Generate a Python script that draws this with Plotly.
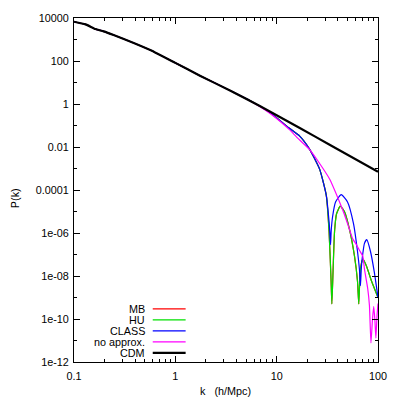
import plotly.graph_objects as go

# ---------------- data ----------------
k_cdm = [0.1, 0.13, 0.163, 0.196, 0.246, 0.565, 1.0, 1.75, 3.46, 6.82, 16.9, 33.3, 100]
p_cdm = [6700, 5040, 3050, 2400, 1625, 323, 81.8, 20.7, 4.25, 0.81, 0.077, 0.0128, 7.12e-4]

k_class = [0.1, 0.13, 0.163, 0.196, 0.246, 0.565, 1.0, 1.75, 3.46, 5.44, 8.55, 13.45, 16.87,
           21.17, 26.54, 30.88, 32.89, 33.6, 34.04, 34.5, 35.62, 38.11, 43.37, 50.03, 57.31,
           62.74, 65.6, 67.14, 68.5, 70.26, 73.5, 77.42, 84.2, 92.2, 100]
p_class = [6700, 5040, 3050, 2400, 1625, 323, 81.8, 20.7, 4.25, 1.45, 0.40, 0.072, 0.032,
           0.00776, 9.38e-4, 5.65e-5, 3.37e-6, 8.0e-7, 2.87e-7, 1.2e-6, 5.71e-6, 2.79e-5, 6.03e-5,
           2.79e-5, 2.73e-6, 1.42e-7, 2.0e-8, 3.52e-9, 2.5e-8, 8.35e-8, 3.3e-7, 4.88e-7, 1.42e-7,
           1.39e-8, 9.9e-10]

k_hu = [0.1, 0.13, 0.163, 0.196, 0.246, 0.565, 1.0, 1.75, 3.46, 5.44, 8.55, 13.45, 16.87,
        21.17, 26.54, 30.88, 32.89, 34.43, 35.06, 36.02, 37.26, 38.99, 42.4, 46.73, 52.36,
        58.63, 62.74, 64.6, 66.37, 68.69, 71.06, 76.9, 86.1, 100]
p_hu = [6700, 5040, 3050, 2400, 1625, 323, 81.8, 20.7, 4.25, 1.45, 0.40, 0.072, 0.032,
        0.00776, 9.38e-4, 5.65e-5, 1.17e-6, 5.96e-9, 5.08e-10, 1.71e-8, 1.17e-6, 7.84e-6, 1.77e-5,
        9.7e-6, 1.45e-6, 8.35e-8, 5.96e-9, 5.08e-10, 1.01e-8, 3.99e-8, 6.08e-8, 2.9e-8, 5.96e-9,
        9.9e-10]

k_mb = k_hu
p_mb = p_hu

k_noapprox = [0.1, 0.13, 0.163, 0.196, 0.246, 0.565, 1.0, 1.75, 3.46, 5.44, 8.55, 13.45, 15.66,
              21.17, 26.54, 33.27, 41.74, 46.73, 52.36, 56.03, 60.93, 65.64, 70.74, 73.5, 79.2,
              82.3, 85.2, 88.1, 90.7, 93.2, 95.3, 97.9, 100]
p_noapprox = [6700, 5040, 3050, 2400, 1625, 323, 81.8, 20.7, 4.25, 1.42, 0.37, 0.0622, 0.0297,
              0.00752, 0.001714, 3.27e-4, 2.79e-5, 7.06e-6, 1.45e-6, 5.6e-7, 2.97e-7, 1.57e-7,
              8.35e-8, 2.12e-8, 2.56e-9, 4.25e-10, 7.7e-12, 8.7e-11, 3.83e-10, 8.7e-11, 1.3e-11,
              1.48e-10, 5.25e-10]

series_names = ["MB", "HU", "CLASS", "no approx.", "CDM"]
series_colors = ["#ff0000", "#00e000", "#0000ff", "#ff00ff", "#000000"]
series_widths = [1.2, 1.2, 1.2, 1.2, 2.2]

x_tickvals = [0.1, 1, 10, 100]
x_ticktext = ["0.1", "1", "10", "100"]
y_tickvals = [1e4, 1e2, 1, 1e-2, 1e-4, 1e-6, 1e-8, 1e-10, 1e-12]
y_ticktext = ["10000", "100", "1", "0.01", "0.0001", "1e-06", "1e-08", "1e-10", "1e-12"]

# ---------------- figure ----------------
W, H = 399, 399
ML, MR, MT, MB_ = 74, 20, 14, 37
FONT = "Liberation Sans, Arial, Helvetica, sans-serif"
FS = 10.8

fig = go.Figure()
data = [(k_mb, p_mb), (k_hu, p_hu), (k_class, p_class), (k_noapprox, p_noapprox), (k_cdm, p_cdm)]
for (kx, py), name, col, lw in zip(data, series_names, series_colors, series_widths):
    fig.add_trace(go.Scatter(x=kx, y=py, mode="lines", name=name,
                             line=dict(color=col, width=lw, shape="spline", smoothing=0.5),
                             showlegend=False, hoverinfo="skip"))

# custom legend (text right-aligned, sample line to its right), as gnuplot draws it
pw = W - ML - MR
ph = H - MT - MB_
legend_rows_px = [308.3, 319.3, 330.5, 341.7, 352.7]
for name, col, lw, ypx in zip(series_names, series_colors, series_widths, legend_rows_px):
    yp = (H - MB_ - ypx) / ph
    fig.add_annotation(x=(147 - ML) / pw, y=yp, xref="paper", yref="paper", text=name,
                       showarrow=False, xanchor="right", yanchor="middle",
                       font=dict(family=FONT, size=FS, color="#000"))
    fig.add_shape(type="line", xref="paper", yref="paper",
                  x0=(153 - ML) / pw, x1=(186 - ML) / pw, y0=yp, y1=yp,
                  line=dict(color=col, width=lw))

# axis titles
fig.add_annotation(x=(7 - ML) / pw, y=(H - MB_ - 196) / ph, xref="paper", yref="paper",
                   text="P(k)", textangle=-90, showarrow=False,
                   font=dict(family=FONT, size=FS, color="#000"))
fig.add_annotation(x=(226 - ML) / pw, y=(H - MB_ - 391) / ph, xref="paper", yref="paper",
                   text="k\u00a0\u00a0\u00a0(h/Mpc)", showarrow=False, yanchor="middle",
                   font=dict(family=FONT, size=FS, color="#000"))

axis_common = dict(type="log", showgrid=False, zeroline=False, showline=True,
                   linecolor="#000", linewidth=1, mirror="allticks", ticks="inside",
                   tickcolor="#000", tickwidth=1, ticklen=6,
                   tickfont=dict(family=FONT, size=FS, color="#000"))
fig.update_xaxes(range=[-1, 2], tickvals=x_tickvals, ticktext=x_ticktext,
                 minor=dict(ticks="inside", ticklen=3, tickcolor="#000", dtick="D1", showgrid=False),
                 ticklabelstandoff=4, **axis_common)
fig.update_yaxes(range=[-12, 4], tickvals=y_tickvals, ticktext=y_ticktext,
                 minor=dict(ticks="inside", ticklen=3, tickcolor="#000", dtick=1, showgrid=False),
                 ticklabelstandoff=2, **axis_common)

fig.update_layout(width=W, height=H, margin=dict(l=ML, r=MR, t=MT, b=MB_, pad=0),
                  plot_bgcolor="white", paper_bgcolor="white",
                  font=dict(family=FONT, size=FS, color="#000"))
fig.write_html("out.html", config={"displayModeBar": False, "staticPlot": True})

# remove the browser's default page margin so the figure sits at the window origin
with open("out.html", "r", encoding="utf-8") as f:
    html = f.read()
html = html.replace("<head>", "<head><style>html,body{margin:0;padding:0;overflow:hidden}</style>", 1)
with open("out.html", "w", encoding="utf-8") as f:
    f.write(html)
